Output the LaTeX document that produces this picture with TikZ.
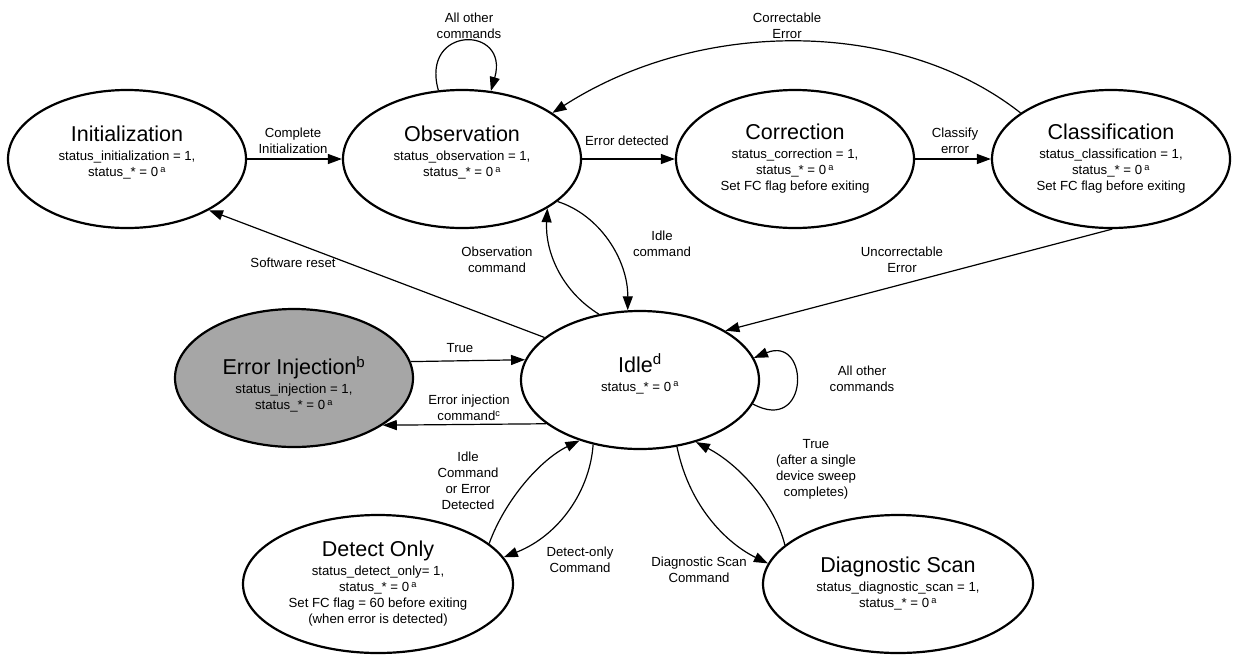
\documentclass[tikz,border=0pt]{standalone}
\usepackage{fontspec}
\setmainfont{Liberation Sans}
\usetikzlibrary{arrows.meta,shapes.geometric}

\definecolor{injectgray}{RGB}{166,166,166}
\newcommand{\statename}[1]{{\fontsize{21.5}{24}\selectfont #1}\\[3pt]}
\newcommand{\supa}{\,\textsuperscript{a}}

\begin{document}
\begin{tikzpicture}[x=1pt,y=-1pt,
		state/.style={ellipse,draw,line width=2.2pt,minimum width=238pt,minimum height=138pt,
			inner sep=0pt,align=center,font=\fontsize{13.2}{16}\selectfont},
		widestate/.style={state,minimum width=270pt},
		textup/.style={text depth=15pt},
		textdown/.style={text height=66pt},
		trans/.style={line width=1.2pt,-{Triangle[length=14pt,width=10pt]}},
		lbl/.style={align=center,font=\fontsize{13.2}{16}\selectfont}]
		\useasboundingbox (0,0) rectangle (1233,654);
		% States
		\node[state,textup] (init) at (127,159) {\statename{Initialization}status\_initialization = 1,\\status\_* = 0\supa};
		\node[state,textup] (obs) at (462,159) {\statename{Observation}status\_observation = 1,\\status\_* = 0\supa};
		\node[state] (corr) at (795,159) {\statename{Correction}status\_correction = 1,\\status\_* = 0\supa\\Set FC flag before exiting};
		\node[state] (class) at (1111,159) {\statename{Classification}status\_classification = 1,\\status\_* = 0\supa\\Set FC flag before exiting};
		\node[state,textdown,fill=injectgray] (inject) at (294,378) {\statename{Error Injection\textsuperscript{b}}status\_injection = 1,\\status\_* = 0\supa};
		\node[state,textup] (idle) at (640,380) {\statename{Idle\textsuperscript{d}}status\_* = 0\supa};
		\node[widestate] (detect) at (378,584) {\statename{Detect Only}status\_detect\_only= 1,\\status\_* = 0\supa\\Set FC flag = 60 before exiting\\(when error is detected)};
		\node[widestate] (diag) at (898,584) {\statename{Diagnostic Scan}status\_diagnostic\_scan = 1,\\status\_* = 0\supa};
		% Transitions
		\draw[trans] (init.east) -- (obs.west);
		\draw[trans] (obs.east) -- (corr.west);
		\draw[trans] (corr.east) -- (class.west);
		\draw[trans] (class.153) .. controls (900,18) and (700,18) .. (obs.27);
		\draw[trans] (obs.109) .. controls (420,25) and (510,25) .. (obs.67);
		\draw[trans] (idle.122) .. controls (560,290) and (545,250) .. (obs.-30);
		\draw[trans] (obs.-24) .. controls (600,215) and (628,260) .. (idle.100);
		\draw[trans] (class.-89) -- (idle.30);
		\draw[trans] (idle.-12) .. controls (810,435) and (810,335) .. (idle.11);
		\draw[trans] (idle.156) -- (init.-32);
		\draw[trans] (inject.8) -- (idle.170);
		\draw[trans] (idle.205) -- (inject.-28);
		\draw[trans] (idle.234) .. controls (590,490) and (560,535) .. (detect.12);
		\draw[trans] (detect.20) .. controls (505,500) and (540,460) .. (idle.225);
		\draw[trans] (idle.-61) .. controls (690,510) and (730,545) .. (diag.171);
		\draw[trans] (diag.161) .. controls (775,505) and (740,465) .. (idle.-48);
		% Labels
		\node[lbl] (lcompl) at (293,141) {Complete\\Initialization};
		\node[lbl] (lerrdet) at (627,141) {Error detected};
		\node[lbl] (lclassify) at (955,141) {Classify\\error};
		\node[lbl] (lcorrect) at (787,26) {Correctable\\Error};
		\node[lbl] (lobsloop) at (469,26) {All other\\commands};
		\node[lbl] (lobscmd) at (497,260) {Observation\\command};
		\node[lbl] (lidlecmd) at (662,244) {Idle\\command};
		\node[lbl] (luncorr) at (902,260) {Uncorrectable\\Error};
		\node[lbl] (lidleloop) at (862,379) {All other\\commands};
		\node[lbl] (lreset) at (293,263) {Software reset};
		\node[lbl] (ltrue) at (460,348) {True};
		\node[lbl] (linject) at (469,408) {Error injection\\command\textsuperscript{c}};
		\node[lbl] (ldetback) at (468,481) {Idle\\Command\\or Error\\Detected};
		\node[lbl] (ldetcmd) at (580,560) {Detect-only\\Command};
		\node[lbl] (ldiagcmd) at (699,570) {Diagnostic Scan\\Command};
		\node[lbl] (ldiagback) at (816,469) {True\\(after a single\\device sweep\\completes)};
	\end{tikzpicture}
\end{document}
